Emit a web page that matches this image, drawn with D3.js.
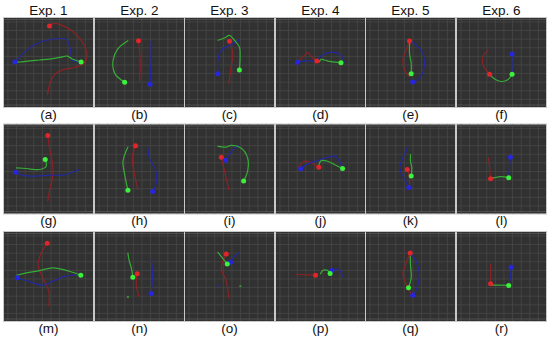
<!DOCTYPE html>
<html><head><meta charset="utf-8">
<script src="https://cdn.jsdelivr.net/npm/d3@7"></script>
<style>html,body{margin:0;padding:0;background:#fff;}svg{display:block;}</style>
</head><body>
<svg id="chart" width="550" height="340"></svg>
<script>
// Column titles and panel labels
const expLabels = ["Exp. 1","Exp. 2","Exp. 3","Exp. 4","Exp. 5","Exp. 6"];
const panelLabels = ["(a)","(b)","(c)","(d)","(e)","(f)","(g)","(h)","(i)","(j)","(k)","(l)","(m)","(n)","(o)","(p)","(q)","(r)"];

// Trajectories in panel-local coordinates (0..90, y downward); first point = marker
const redPaths = [
  [[46,8],[51,5.5],[63,9.5],[74,17.5],[82,29.5],[84,39.5],[81,45.5],[73,49.5],[59,52.5],[51,57.5],[46,67.5],[44,77.5]],
  [[44,23],[45,32.5],[45.7,49],[45,64]],
  [[45,23.5],[48.3,35.8],[46.7,49.2],[44.3,65.8]],
  [[41.3,43.5],[35.7,39.2],[32.3,34.8],[29,37.5],[24,42.5],[21.7,44.8]],
  [[44,23.2],[40.7,32.5],[37.3,42.5],[39,52.5],[44,59.2]],
  [[33,56.8],[26.3,47.5],[26.3,39.2],[31.3,32.5]],
  [[44.3,11.2],[46,23.8],[49.3,40.5],[49.3,52.2],[46,67.2],[44.3,77.2]],
  [[41,21.5],[37.7,33.8],[40,50.5],[43.3,65.5]],
  [[36.7,33.2],[40,47.2],[44.3,65.5]],
  [[43.3,43.2],[35.7,38.8],[29,37.2],[22.3,43.2]],
  [[41.7,45.5],[44,53.8],[44,62.2]],
  [[34,54.8],[33,43.8],[32,33.8]],
  [[43.7,11.3],[37.7,21.3],[34.3,33],[39.3,46.3],[45.3,59.7],[45.3,74.7]],
  [[42.7,42.3],[41.7,53],[44.3,64.7]],
  [[41.7,22.3],[36.7,36.3],[41.7,49.7],[44.3,66.3]],
  [[40,43.7],[20.7,43]],
  [[44.7,21.3],[40,33],[37.3,43],[40.7,53],[45.7,63]],
  [[34,52.3],[34,33]]
];
const greenPaths = [
  [[78,44.5],[69,41.5],[64,38.5],[58,39.5],[53,40.5],[36,42.5],[16,44.5],[11,44.5]],
  [[30,65],[20,56],[18.3,42.5],[23.3,31],[33.3,23]],
  [[55,52.5],[55.7,39.2],[55,29.2],[50,22.5],[45,17.5],[40,20.2],[33.3,22.5]],
  [[65.7,45.2],[55.7,44.2],[49,42.5],[45.7,41.8],[44,44.2]],
  [[45.7,56.5],[45.7,45.8],[44,35.8],[44,27.5],[44,24]],
  [[55.7,56.8],[51.3,62.5],[44.7,64.2],[38,61.8],[33,56.8]],
  [[41.7,35.5],[42.7,42.2],[36,45.5],[22.7,44.5],[12.7,43.8]],
  [[33.3,66.5],[30,50.5],[28.3,37.2],[33.3,22.8]],
  [[59.3,57.2],[63.3,47.2],[63.3,33.8],[56.7,23.8],[46.7,21.2],[41.7,22.8],[33.3,22.2]],
  [[67.3,44.5],[59,40.5],[52.3,37.2],[45.7,36.5],[43.3,40.5]],
  [[45.7,52.2],[46.3,43.8],[45,37.2],[45,30.5]],
  [[52.3,53.8],[44.7,52.8],[38,53.8],[34,54.8]],
  [[77.7,43.7],[66,39.7],[49.3,36.3],[36,39],[22.7,41.3],[12.7,43.7]],
  [[38.3,45.7],[36.7,36.3],[34.3,28],[33.3,21.3]],
  [[42.7,32.3],[33.3,20.7]],
  [[54.7,42],[52.3,39],[47.3,39],[45,42.3]],
  [[43,56.3],[45.7,46.3],[45,33],[44.7,24.7]],
  [[52.3,54],[43,53.7],[34,53.7]]
];
const bluePaths = [
  [[11,44.5],[23,32.5],[36,24.5],[49,21.5],[63,21.5],[66,27.5],[68,37.5],[69,42.5],[76,44.5]],
  [[55.7,67],[56.5,45.5],[56.7,23]],
  [[33.3,56.5],[33.3,42.5],[36.7,32.5],[45,27.5],[51.7,24.2],[55,21.8]],
  [[21.7,44.8],[32.3,43.2],[40.7,43.2],[45.7,38.5],[52.3,35.2],[59,34.8],[65.7,37.5],[69,44.2]],
  [[47.3,64.8],[54,60.8],[59,49.2],[57.3,35.8],[49,25.8],[44,23.5]],
  [[55.7,36.5],[55.7,56.8]],
  [[12,48.2],[19.3,51.5],[32.7,52.2],[46,51.2],[59.3,51.2],[71,47.8],[76,45.5]],
  [[58.3,67.8],[61.7,60.5],[61.7,47.2],[55,33.8],[53.3,22.8]],
  [[41,36.2],[45,30.5],[50,23.8],[55,21.2]],
  [[25,44.8],[32.3,39.8],[42.3,36.5],[52.3,33.2],[60.7,32.2],[64,37.2],[67.3,43.2]],
  [[43.3,63.8],[40.7,58.8],[37.3,52.2],[34,43.8],[37.3,33.8],[42.3,22.8]],
  [[54,33.2],[53,43.8],[52.3,53.8]],
  [[13.3,46.3],[29.3,51.3],[39.3,54],[49.3,49.7],[62.7,44.7],[76,43]],
  [[56.7,62.3],[58.3,43],[56.7,27.3]],
  [[46,30.7],[50,24.7],[54.3,21.3]],
  [[56.3,39],[64,38],[66.3,42.3],[67.3,44.7]],
  [[47.3,64],[51.7,56.3],[54,43],[50.7,29.7],[44.7,21.3]],
  [[54.7,35.7],[54,46.3],[52.3,54]]
];
// faint stray points: [panelIndex, x, y, series]
const strayPoints = [[13,33.3,65.7,"g"],[14,33.3,54,"b"],[14,56,54.7,"g"]];
const gridTicks = [4,12.7,21.4,30.1,38.8,47.5,56.2,64.9,73.6,82.3];

const colX = [4,95,185,276,366,457];
const rowY = [18,124.5,232];
const PW = 89, PH = 89;

const svg = d3.select("#chart");
svg.append("rect").attr("width",550).attr("height",340).attr("fill","#fff");

const lineColor = {r:"#9c1f22", g:"#36b336", b:"#2229a8"};
const dotColor = {r:"#e0262a", g:"#3cf03c", b:"#2626e0"};

svg.selectAll("text.exp").data(expLabels).enter().append("text")
  .attr("class","exp")
  .attr("x",(d,i)=>colX[i]+PW/2).attr("y",15)
  .attr("text-anchor","middle")
  .attr("font-family","Liberation Sans, Arial, sans-serif")
  .attr("font-size",13.5).attr("fill","#111").text(d=>d);

panelLabels.forEach((lab,k)=>{
  const c = k%6, r = Math.floor(k/6);
  const x0 = colX[c], y0 = rowY[r];
  const x = d3.scaleLinear().domain([0,90]).range([x0,x0+PW]);
  const y = d3.scaleLinear().domain([0,90]).range([y0,y0+PH]);
  const g = svg.append("g");
  g.append("rect").attr("x",x0-0.5).attr("y",y0-0.5).attr("width",PW+1).attr("height",PH+1)
    .attr("fill","none").attr("stroke","#c8c8c8").attr("stroke-width",1);
  g.append("rect").attr("x",x0).attr("y",y0).attr("width",PW).attr("height",PH)
    .attr("fill","#313131");
  g.selectAll("line.v").data(gridTicks).enter().append("line")
    .attr("x1",d=>x(d)).attr("x2",d=>x(d)).attr("y1",y0).attr("y2",y0+PH)
    .attr("stroke","#474747").attr("stroke-width",0.8);
  g.selectAll("line.h").data(gridTicks).enter().append("line")
    .attr("y1",d=>y(d)).attr("y2",d=>y(d)).attr("x1",x0).attr("x2",x0+PW)
    .attr("stroke","#474747").attr("stroke-width",0.8);
  // edge lines
  g.append("line").attr("x1",x0).attr("x2",x0+PW).attr("y1",y0+1.5).attr("y2",y0+1.5).attr("stroke","#555").attr("stroke-width",0.8);
  g.append("line").attr("x1",x0).attr("x2",x0+PW).attr("y1",y0+PH-2).attr("y2",y0+PH-2).attr("stroke","#555").attr("stroke-width",0.8);

  const line = d3.line().x(d=>x(d[0])).y(d=>y(d[1])).curve(d3.curveCatmullRom.alpha(0.5));
  const series = [["r",redPaths[k]],["b",bluePaths[k]],["g",greenPaths[k]]];
  series.forEach(([s,pts])=>{
    g.append("path").attr("d",line(pts)).attr("fill","none")
      .attr("stroke",lineColor[s]).attr("stroke-width",1.2)
      .attr("stroke-opacity", s==="r"?0.85:0.95).attr("stroke-linecap","round");
  });
  strayPoints.filter(p=>p[0]===k).forEach(p=>{
    g.append("circle").attr("cx",x(p[1])).attr("cy",y(p[2])).attr("r",1.2)
      .attr("fill",lineColor[p[3]]).attr("opacity",0.7);
  });
  series.forEach(([s,pts])=>{
    g.append("circle").attr("cx",x(pts[0][0])).attr("cy",y(pts[0][1])).attr("r",2.5)
      .attr("fill",dotColor[s]);
  });
  svg.append("text").attr("x",x0+PW/2).attr("y",y0+PH+11.5)
    .attr("text-anchor","middle")
    .attr("font-family","Liberation Sans, Arial, sans-serif")
    .attr("font-size",13.5).attr("fill","#111").text(lab);
});
</script>
</body></html>
